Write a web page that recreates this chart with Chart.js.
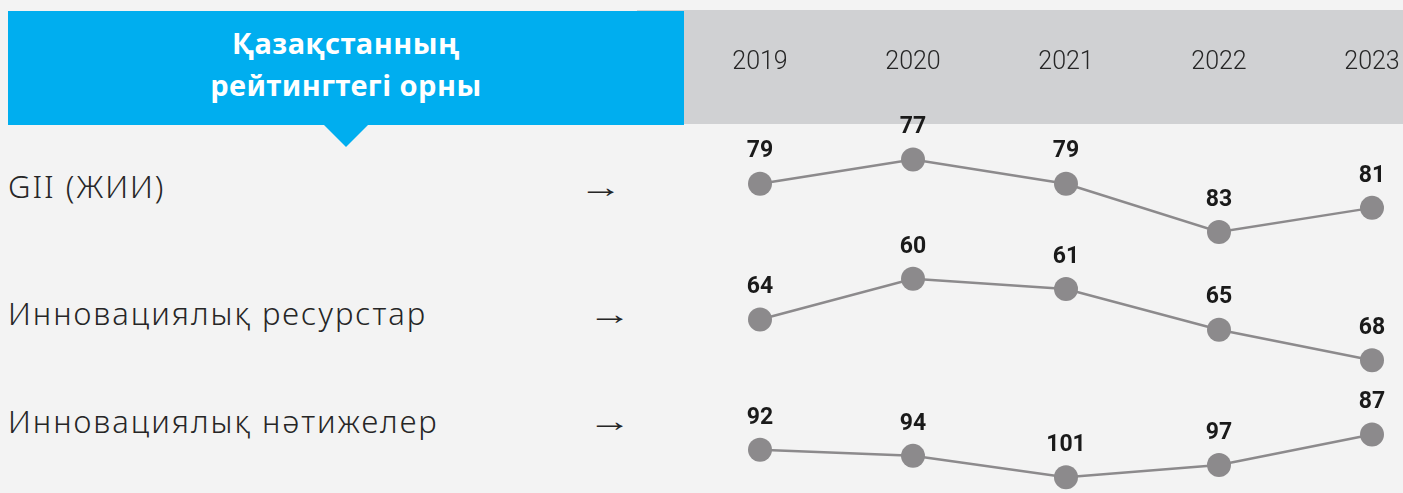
<!DOCTYPE html>
<html>
<head>
<meta charset="utf-8">
<script src="https://cdn.jsdelivr.net/npm/chart.js@4/dist/chart.umd.min.js"></script>
<style>
    html, body { margin: 0; padding: 0; }
    body { width: 1403px; height: 493px; background: #f3f3f3; position: relative; overflow: hidden; }
    .head-gray { position: absolute; left: 637px; top: 10px; width: 766px; height: 114px; background: #d0d1d3; }
    .head-blue { position: absolute; left: 8px; top: 11px; width: 676px; height: 114px; background: #00aeef;
        color: #fff; font-family: "Noto Sans", sans-serif; font-weight: 700; font-size: 29px; line-height: 42px;
        letter-spacing: 0.5px; text-align: center; box-sizing: border-box; padding-top: 11px; }
    .pointer { position: absolute; left: 324px; top: 125px; width: 0; height: 0;
        border-left: 22px solid transparent; border-right: 22px solid transparent; border-top: 22px solid #00aeef; }
    .row-label { position: absolute; left: 8px; font-family: "Noto Sans", sans-serif; font-weight: 300;
        font-size: 31px; letter-spacing: 2px; color: #262626; line-height: 36px; white-space: nowrap; }
    .arrow { position: absolute; font-family: "Liberation Sans", sans-serif; font-size: 30px; color: #262626;
        line-height: 36px; transform: scaleX(1.45); transform-origin: left center; }
    #chartWrap { position: absolute; left: 684px; top: 0; width: 719px; height: 493px; }
</style>
</head>
<body>
<div class="head-gray"></div>
<div class="head-blue">Қазақстанның<br>рейтингтегі орны</div>
<div class="pointer"></div>

<div class="row-label" style="top: 168px;">GII (ЖИИ)</div>
<div class="arrow" style="left: 579px; top: 169px;">→</div>
<div class="row-label" style="top: 295px;">Инновациялық ресурстар</div>
<div class="arrow" style="left: 588px; top: 296px;">→</div>
<div class="row-label" style="top: 403px;">Инновациялық нәтижелер</div>
<div class="arrow" style="left: 588px; top: 403px;">→</div>

<div id="chartWrap"><canvas id="rankChart"></canvas></div>

<script>
// Kazakhstan ranking by year (lower rank = higher on chart)
const years = ['2019', '2020', '2021', '2022', '2023'];
const giiRank = [79, 77, 79, 83, 81];
const resourcesRank = [64, 60, 61, 65, 68];
const outputsRank = [92, 94, 101, 97, 87];

const markColor = '#8c8a8c';

// draws the bold rank number above every point
const rankLabels = {
    id: 'rankLabels',
    afterDatasetsDraw(chart) {
        const ctx = chart.ctx;
        ctx.save();
        ctx.font = 'bold 23px Roboto, "Liberation Sans", sans-serif';
        ctx.fillStyle = '#1a1a1a';
        ctx.textAlign = 'center';
        ctx.textBaseline = 'middle';
        chart.data.datasets.forEach((ds, i) => {
            const meta = chart.getDatasetMeta(i);
            meta.data.forEach((pt, j) => {
                ctx.fillText(String(ds.data[j]), pt.x, pt.y - 32);
            });
        });
        ctx.restore();
    }
};

function rankDataset(label, data, axisId) {
    return {
        label: label,
        data: data,
        yAxisID: axisId,
        borderColor: markColor,
        borderWidth: 2.5,
        pointRadius: 12,
        pointHoverRadius: 12,
        pointBackgroundColor: markColor,
        pointBorderWidth: 0,
        tension: 0,
        clip: false
    };
}

function hiddenAxis(min, max) {
    return { display: false, reverse: true, min: min, max: max };
}

new Chart(document.getElementById('rankChart'), {
    type: 'line',
    data: {
        labels: years,
        datasets: [
            rankDataset('GII (ЖИИ)', giiRank, 'yGii'),
            rankDataset('Инновациялық ресурстар', resourcesRank, 'yRes'),
            rankDataset('Инновациялық нәтижелер', outputsRank, 'yOut')
        ]
    },
    options: {
        responsive: true,
        maintainAspectRatio: false,
        animation: false,
        layout: { padding: { top: 48, left: 76, right: 31, bottom: 0 } },
        plugins: {
            legend: { display: false },
            tooltip: { enabled: false }
        },
        scales: {
            x: {
                position: 'top',
                offset: false,
                grid: { display: false, drawTicks: false },
                border: { display: false },
                ticks: {
                    padding: 0,
                    color: '#262626',
                    font: { family: 'Roboto, "Liberation Sans", sans-serif', size: 25, weight: 300 }
                }
            },
            yGii: hiddenAxis(70.24, 103.63),
            yRes: hiddenAxis(40.26, 79.87),
            yOut: hiddenAxis(-30.04, 102.25)
        }
    },
    plugins: [rankLabels]
});
</script>
</body>
</html>
